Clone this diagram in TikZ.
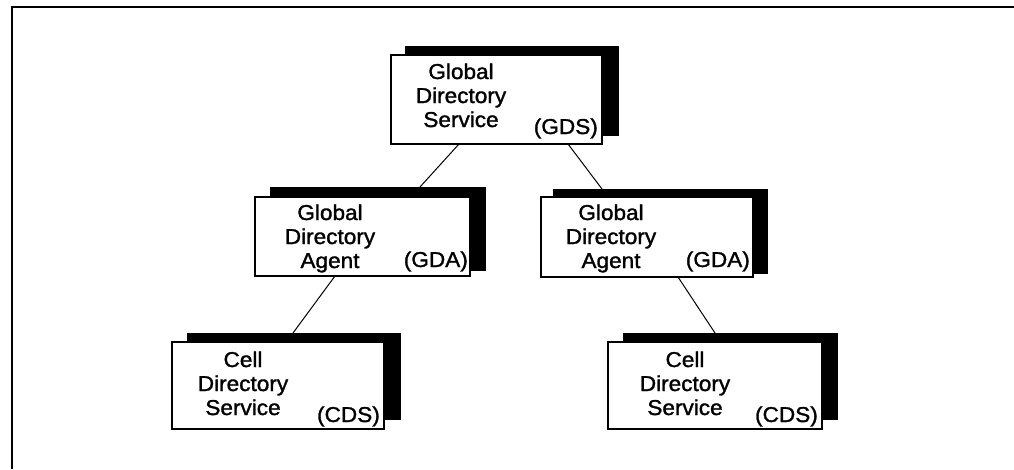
\documentclass[tikz,border=0pt]{standalone}
\usepackage{fontspec}
\setmainfont{Liberation Sans}[FakeStretch=1.05,FakeBold=1.4]
\begin{document}
\begin{tikzpicture}[x=1pt,y=-1pt,
  shadowbox/.style={fill=black,inner sep=0pt,outer sep=0pt,anchor=north west},
  whitebox/.style={draw=black,fill=white,line width=1.2pt,inner sep=0pt,outer sep=0pt,anchor=north west},
  boxtext/.style={align=center,anchor=base,inner sep=0pt,font=\fontsize{21.5}{24}\selectfont},
  abbrtext/.style={anchor=base east,inner sep=0pt,font=\fontsize{21.5}{24}\selectfont},
  link/.style={line width=1pt}]
\useasboundingbox (0,0) rectangle (1014,469);
% outer frame (top and left edges)
\draw[line width=2pt] (12,469) -- (12,6.5) -- (1014,6.5);

% Global Directory Service (text node placed by its last baseline)
\node[shadowbox,minimum width=214pt,minimum height=90pt] (gdssh) at (405,46) {};
\node[whitebox,minimum width=211pt,minimum height=89pt] (gds) at (391,55) {};
\node[boxtext] (gdst) at (461,127) {Global\\Directory\\Service};
\node[abbrtext] (gdsa) at (598,134) {(GDS)};

% Global Directory Agent, left
\node[shadowbox,minimum width=216pt,minimum height=84pt] (gdalsh) at (270,187) {};
\node[whitebox,minimum width=215pt,minimum height=79pt] (gdal) at (255,197) {};
\node[boxtext] (gdalt) at (330,268) {Global\\Directory\\Agent};
\node[abbrtext] (gdala) at (468,267) {(GDA)};

% Global Directory Agent, right
\node[shadowbox,minimum width=215pt,minimum height=85pt] (gdarsh) at (553,189) {};
\node[whitebox,minimum width=212pt,minimum height=80pt] (gdar) at (541,197) {};
\node[boxtext] (gdart) at (611,268) {Global\\Directory\\Agent};
\node[abbrtext] (gdara) at (750,267) {(GDA)};

% Cell Directory Service, left
\node[shadowbox,minimum width=214pt,minimum height=87pt] (cdslsh) at (187,333) {};
\node[whitebox,minimum width=212pt,minimum height=87pt] (cdsl) at (172,342) {};
\node[boxtext] (cdslt) at (243,415) {Cell\\Directory\\Service};
\node[abbrtext] (cdsla) at (380,422) {(CDS)};

% Cell Directory Service, right
\node[shadowbox,minimum width=215pt,minimum height=87pt] (cdsrsh) at (623,333) {};
\node[whitebox,minimum width=214pt,minimum height=87pt] (cdsr) at (608,342) {};
\node[boxtext] (cdsrt) at (685,415) {Cell\\Directory\\Service};
\node[abbrtext] (cdsra) at (818,422) {(CDS)};

% connectors
\draw[link] ([xshift=68pt]gds.south west) -- ([xshift=150pt]gdalsh.north west);
\draw[link] ([xshift=177pt]gds.south west) -- ([xshift=49pt]gdarsh.north west);
\draw[link] ([xshift=80pt]gdal.south west) -- ([xshift=106pt]cdslsh.north west);
\draw[link] ([xshift=137pt]gdar.south west) -- ([xshift=92pt]cdsrsh.north west);
\end{tikzpicture}
\end{document}
